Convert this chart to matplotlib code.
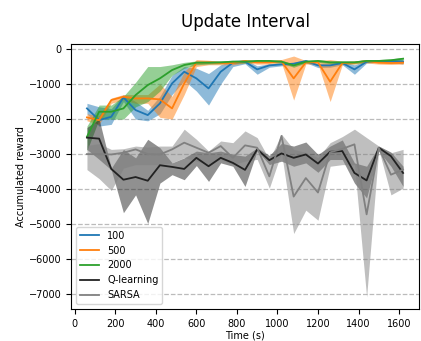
import matplotlib
matplotlib.use("Agg")
import matplotlib.pyplot as plt


t = [60, 120, 180, 240, 300, 360, 420, 480, 540, 600, 660, 720, 780, 840,
     900, 960, 1020, 1080, 1140, 1200, 1260, 1320, 1380, 1440, 1500, 1560, 1620]

# update interval 100
u100 = [-1695, -2030, -1933, -1381, -1743, -1886, -1552, -981, -648, -838, -1124, -648, -390, -362,
        -581, -467, -438, -419, -343, -467, -467, -400, -581, -362, -343, -343, -362]
u100_lo = [-1850, -2200, -2150, -1500, -2000, -2050, -1850, -1300, -900, -1200, -1600, -1000, -500, -420,
           -720, -520, -480, -470, -390, -530, -520, -450, -720, -400, -380, -380, -430]
u100_hi = [-1550, -1650, -1700, -1300, -1500, -1750, -1350, -750, -500, -550, -700, -450, -330, -300,
           -480, -420, -400, -380, -300, -420, -420, -360, -450, -330, -300, -300, -300]

# update interval 500
u500 = [-1952, -2030, -1457, -1362, -1410, -1410, -1438, -1695, -981, -390, -380, -400, -400, -343,
        -381, -381, -352, -838, -381, -381, -933, -400, -390, -343, -390, -400, -390]
u500_lo = [-2050, -2150, -1550, -1450, -1550, -1550, -1950, -2000, -1300, -500, -450, -450, -450, -400,
           -430, -430, -400, -1457, -430, -430, -1500, -450, -430, -400, -430, -440, -430]
u500_hi = [-1850, -1900, -1400, -1300, -1300, -1300, -1000, -1350, -650, -300, -320, -350, -350, -300,
           -330, -330, -300, -200, -330, -330, -300, -350, -350, -300, -350, -360, -350]

# update interval 2000
u2000 = [-2505, -1790, -1790, -1695, -1314, -1029, -838, -600, -457, -390, -390, -380, -360, -362,
         -340, -340, -362, -467, -362, -340, -381, -381, -381, -340, -340, -320, -276]
u2000_lo = [-2900, -2000, -2000, -2000, -1650, -1500, -1200, -750, -550, -450, -430, -420, -400, -400,
            -380, -380, -400, -520, -400, -380, -420, -420, -420, -380, -380, -360, -320]
u2000_hi = [-2200, -1600, -1600, -1350, -950, -500, -500, -450, -380, -340, -340, -340, -320, -320,
            -300, -300, -320, -420, -320, -300, -340, -340, -340, -300, -300, -280, -240]

qlearn = [-2529, -2558, -3423, -3731, -3654, -3760, -3317, -3365, -3423, -3106, -3346, -3106, -3250, -3450,
          -2865, -3173, -2980, -3106, -3010, -3269, -2933, -2913, -3538, -3750, -2817, -3058, -3538]
qlearn_lo = [-2865, -3150, -3450, -4673, -4163, -4980, -3827, -3587, -3731, -3327, -3779, -3250, -3346, -3923,
             -2900, -3298, -3202, -3346, -3250, -3519, -3154, -3154, -3827, -4250, -2913, -3346, -3923]
qlearn_hi = [-2240, -2000, -3400, -2865, -3106, -2577, -2817, -3250, -3106, -2913, -2962, -2913, -3010, -3058,
             -2817, -3038, -2692, -2770, -2654, -3010, -2770, -2596, -3250, -3346, -2770, -2942, -3346]

sarsa = [-3000, -3000, -3010, -2960, -2865, -3000, -3010, -2865, -2673, -2817, -2962, -2770, -3106, -2750,
         -2817, -3635, -2480, -4212, -3683, -4096, -2950, -2850, -2721, -4720, -2817, -3587, -3442]
sarsa_lo = [-3442, -3700, -4038, -3400, -3300, -3300, -3300, -3250, -3100, -3200, -3300, -3150, -3300, -3200,
            -3150, -3971, -2950, -5267, -4600, -4886, -3346, -3300, -3300, -7076, -2870, -4163, -3971]
sarsa_hi = [-2750, -2700, -2865, -2846, -2770, -2800, -2770, -2770, -2288, -2577, -2913, -2625, -2673, -2337,
            -2529, -3154, -2432, -2865, -2950, -3100, -2673, -2500, -2288, -2530, -2770, -2962, -2865]

series = [
    ("100", u100, u100_lo, u100_hi, "tab:blue"),
    ("500", u500, u500_lo, u500_hi, "tab:orange"),
    ("2000", u2000, u2000_lo, u2000_hi, "tab:green"),
    ("Q-learning", qlearn, qlearn_lo, qlearn_hi, "#222222"),
    ("SARSA", sarsa, sarsa_lo, sarsa_hi, "gray"),
]

fig = plt.figure(figsize=(4.21, 3.41), dpi=100)
ax = fig.add_axes([0.169, 0.094, 0.826, 0.777])

for name, m, lo, hi, c in series:
    ax.plot(t, m, color=c, lw=1.3, label=name)
    ax.fill_between(t, lo, hi, color=c, alpha=0.5, lw=0)

ax.set_title("Update Interval", fontsize=12, pad=12)
ax.set_xlabel("Time (s)", fontsize=7, labelpad=1)
ax.set_ylabel("Accumulated reward", fontsize=7, labelpad=2)
ax.tick_params(labelsize=7)
ax.yaxis.grid(True, linestyle="--", color="#bbbbbb", lw=0.9)
ax.set_axisbelow(True)
ax.legend(loc="lower left", fontsize=7)

fig.savefig("out.png", dpi=100)
